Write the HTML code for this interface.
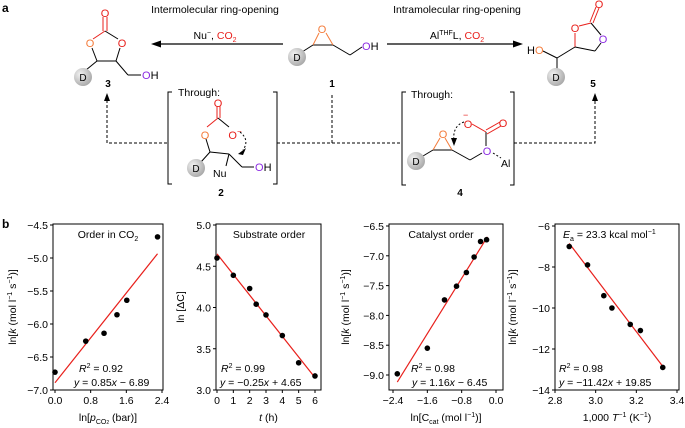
<!DOCTYPE html>
<html><head><meta charset="utf-8"><style>
body{margin:0;background:#fff;}
svg{display:block;font-family:"Liberation Sans",Arial,sans-serif;}
</style></head><body>
<svg id="s" width="685" height="428" viewBox="0 0 685 428" xmlns="http://www.w3.org/2000/svg">
<g font-size="11">
<text x="2" y="12" font-weight="bold" font-size="12">a</text>
<text x="215" y="13" text-anchor="middle" font-size="10.5">Intermolecular ring-opening</text>
<text x="215" y="39" text-anchor="middle" font-size="10.5">Nu<tspan dy="-4" font-size="7">−</tspan><tspan dy="4">, </tspan><tspan fill="#e8201c">CO<tspan font-size="7" dy="3">2</tspan></tspan></text>
<line x1="283" y1="44" x2="158" y2="44" stroke="#000" stroke-width="1.2"/>
<polygon points="151,44 161,40.5 161,47.5" fill="#000"/>
<text x="457" y="13" text-anchor="middle" font-size="10.5">Intramolecular ring-opening</text>
<text x="457" y="39" text-anchor="middle" font-size="10.5">Al<tspan dy="-4" font-size="7">THF</tspan><tspan dy="4">L, </tspan><tspan fill="#e8201c">CO<tspan font-size="7" dy="3">2</tspan></tspan></text>
<line x1="387" y1="44" x2="516" y2="44" stroke="#000" stroke-width="1.2"/>
<polygon points="523,44 513,40.5 513,47.5" fill="#000"/>
<defs><radialGradient id="g" cx="0.35" cy="0.35" r="0.7"><stop offset="0" stop-color="#f2f2f2"/><stop offset="1" stop-color="#a8a8a8"/></radialGradient></defs>
<!-- compound 3 -->
<g stroke="#000" stroke-width="1" fill="none">
<line x1="103" y1="17" x2="103" y2="31" stroke="#e8201c"/><line x1="107" y1="17" x2="107" y2="31" stroke="#e8201c"/>
<line x1="105" y1="31" x2="93" y2="39" stroke="#e8201c"/><line x1="105" y1="31" x2="118" y2="39"/>
<line x1="92" y1="48" x2="97" y2="61"/><line x1="120" y1="48" x2="116" y2="61"/>
<line x1="97" y1="61" x2="116" y2="61"/><line x1="97" y1="61" x2="86" y2="70"/>
<line x1="116" y1="61" x2="128" y2="75"/><line x1="128" y1="75" x2="141" y2="75"/>
</g>
<text x="105" y="17" text-anchor="middle" fill="#e8201c">O</text>
<text x="90" y="47" text-anchor="middle" fill="#f47b3a">O</text>
<text x="122" y="47" text-anchor="middle" fill="#e8201c">O</text>
<circle cx="83" cy="77" r="9" fill="url(#g)"/><text x="83" y="81" text-anchor="middle" font-size="10">D</text>
<text x="142" y="79"><tspan fill="#8b2be2">O</tspan>H</text>
<text x="108" y="87" text-anchor="middle" font-weight="bold" font-size="10">3</text>
<!-- compound 1 -->
<g stroke="#000" stroke-width="1">
<line x1="313" y1="45" x2="333" y2="45"/><line x1="313" y1="45" x2="319" y2="33" stroke="#f47b3a"/><line x1="333" y1="45" x2="326" y2="33" stroke="#f47b3a"/>
<line x1="313" y1="45" x2="302" y2="52"/><line x1="333" y1="45" x2="350" y2="55"/><line x1="350" y1="55" x2="362" y2="47"/>
</g>
<text x="322" y="33" text-anchor="middle" fill="#f47b3a">O</text>
<circle cx="297" cy="57" r="9" fill="url(#g)"/><text x="297" y="61" text-anchor="middle" font-size="10">D</text>
<text x="362" y="50"><tspan fill="#8b2be2">O</tspan>H</text>
<text x="332" y="87" text-anchor="middle" font-weight="bold" font-size="10">1</text>
<!-- compound 5 -->
<g stroke="#000" stroke-width="1">
<line x1="543" y1="51" x2="557" y2="58"/><line x1="557" y1="58" x2="557" y2="70"/><line x1="557" y1="58" x2="575" y2="47"/>
<line x1="575" y1="47" x2="575" y2="33" stroke="#e8201c"/><line x1="579" y1="26" x2="591" y2="23" stroke="#e8201c"/>
<line x1="591" y1="23" x2="601" y2="35"/><line x1="590" y1="22" x2="596" y2="7" stroke="#e8201c"/><line x1="593" y1="23" x2="599" y2="8" stroke="#e8201c"/>
<line x1="601" y1="43" x2="595" y2="51"/><line x1="595" y1="51" x2="575" y2="47"/>
</g>
<text x="599" y="8" text-anchor="middle" fill="#e8201c">O</text>
<text x="575" y="32" text-anchor="middle" fill="#e8201c">O</text>
<text x="603" y="43" text-anchor="middle" fill="#8b2be2">O</text>
<text x="527" y="54">H<tspan fill="#f47b3a">O</tspan></text>
<circle cx="556" cy="77" r="9" fill="url(#g)"/><text x="556" y="81" text-anchor="middle" font-size="10">D</text>
<text x="593" y="87" text-anchor="middle" font-weight="bold" font-size="10">5</text>
<!-- brackets and dashes -->
<g stroke="#000" stroke-width="1" fill="none">
<polyline points="172,92 168,92 168,184 172,184"/><polyline points="273,92 277,92 277,184 273,184"/>
<polyline points="406,92 402,92 402,185 406,185"/><polyline points="510,92 514,92 514,185 510,185"/>
</g>
<g stroke="#000" stroke-width="1" fill="none" stroke-dasharray="3,2">
<polyline points="167,143 107,143 107,100"/><line x1="277" y1="143" x2="402" y2="143"/><line x1="332" y1="95" x2="332" y2="143"/>
<polyline points="514,143 595,143 595,100"/>
</g>
<polygon points="107,93 104,101 110,101" fill="#000"/><polygon points="595,93 592,101 598,101" fill="#000"/>
<text x="178" y="96" font-size="10.5">Through:</text>
<text x="411" y="98" font-size="10.5">Through:</text>
<!-- compound 2 -->
<g stroke="#000" stroke-width="1" fill="none">
<line x1="217" y1="106" x2="217" y2="118" stroke="#e8201c"/><line x1="220" y1="106" x2="220" y2="118" stroke="#e8201c"/>
<line x1="218" y1="118" x2="207" y2="127" stroke="#e8201c"/><line x1="218" y1="118" x2="229" y2="127"/>
<line x1="206" y1="139" x2="210" y2="152"/><line x1="210" y1="152" x2="229" y2="154"/><line x1="210" y1="152" x2="201" y2="162"/>
<line x1="229" y1="154" x2="226" y2="166"/><line x1="229" y1="154" x2="242" y2="167"/><line x1="242" y1="167" x2="254" y2="167"/>
<path d="M240,132 Q250,140 243,150" stroke-dasharray="2,2"/>
</g>
<polygon points="238,154 246,148 243,155" fill="#000"/>
<text x="218" y="107" text-anchor="middle" fill="#e8201c">O</text>
<text x="205" y="139" text-anchor="middle" fill="#f47b3a">O</text>
<text x="235" y="139" text-anchor="middle" fill="#e8201c">O<tspan dy="-5" font-size="8">−</tspan></text>
<circle cx="196" cy="168" r="9" fill="url(#g)"/><text x="196" y="172" text-anchor="middle" font-size="10">D</text>
<text x="213" y="177" font-size="10.5">Nu</text>
<text x="255" y="171"><tspan fill="#8b2be2">O</tspan>H</text>
<text x="221" y="196" text-anchor="middle" font-weight="bold" font-size="10">2</text>
<!-- compound 4 -->
<g stroke="#000" stroke-width="1" fill="none">
<line x1="433" y1="150" x2="452" y2="150"/><line x1="433" y1="150" x2="440" y2="138" stroke="#f47b3a"/><line x1="452" y1="150" x2="445" y2="138" stroke="#f47b3a"/>
<line x1="433" y1="150" x2="423" y2="156"/><line x1="452" y1="150" x2="470" y2="160"/><line x1="470" y1="160" x2="482" y2="153"/>
<line x1="486" y1="146" x2="486" y2="132"/><line x1="486" y1="132" x2="472" y2="124" stroke="#e8201c"/>
<line x1="486" y1="130" x2="500" y2="122" stroke="#e8201c"/><line x1="487" y1="134" x2="501" y2="126" stroke="#e8201c"/>
<line x1="493" y1="153" x2="501" y2="158" stroke-dasharray="2,2"/>
<path d="M464,122 Q452,126 454,142" stroke-dasharray="2,2"/>
</g>
<polygon points="454,146 451,138 457,138" fill="#000"/>
<text x="443" y="138" text-anchor="middle" fill="#f47b3a">O</text>
<text x="468" y="128" text-anchor="middle" fill="#e8201c">O</text><text x="463" y="118" fill="#e8201c" font-size="9">−</text>
<text x="503" y="127" text-anchor="middle" fill="#e8201c">O</text>
<text x="487" y="155" text-anchor="middle" fill="#8b2be2">O</text>
<text x="501" y="167" font-size="10.5">Al</text>
<circle cx="416" cy="161" r="9" fill="url(#g)"/><text x="416" y="165" text-anchor="middle" font-size="10">D</text>
<text x="460" y="196" text-anchor="middle" font-weight="bold" font-size="10">4</text>
</g>
<text x="2" y="228" font-weight="bold" font-size="12">b</text>
<g id="charts"></g>
</svg>
<script>
// Chart 1: order in CO2
const c1X = [0.0, 0.69, 1.1, 1.39, 1.61, 2.3];
const c1Y = [-6.73, -6.26, -6.14, -5.86, -5.64, -4.68];
const c1Fit = [0.85, -6.89];
const c1XTicks = ["0.0", "0.8", "1.6", "2.4"];
const c1YTicks = ["-7.0", "-6.5", "-6.0", "-5.5", "-5.0", "-4.5"];
// Chart 2: substrate order
const c2X = [0, 1, 2, 2.4, 3, 4, 5, 6];
const c2Y = [4.6, 4.39, 4.23, 4.04, 3.91, 3.66, 3.33, 3.17];
const c2Fit = [-0.25, 4.65];
const c2XTicks = ["0", "1", "2", "3", "4", "5", "6"];
const c2YTicks = ["3.0", "3.5", "4.0", "4.5", "5.0"];
// Chart 3: catalyst order
const c3X = [-2.3, -1.6, -1.2, -0.92, -0.69, -0.51, -0.36, -0.22];
const c3Y = [-8.98, -8.55, -7.74, -7.51, -7.28, -7.02, -6.76, -6.73];
const c3Fit = [1.16, -6.45];
const c3XTicks = ["-2.4", "-1.6", "-0.8", "0.0"];
const c3YTicks = ["-9.0", "-8.5", "-8.0", "-7.5", "-7.0", "-6.5"];
// Chart 4: Arrhenius
const c4X = [2.87, 2.96, 3.04, 3.08, 3.17, 3.22, 3.33];
const c4Y = [-7.0, -7.9, -9.4, -10.0, -10.8, -11.1, -12.9];
const c4FitPts = [[2.87, -6.85], [3.33, -12.85]];
const c4XTicks = ["2.8", "3.0", "3.2", "3.4"];
const c4YTicks = ["-14", "-12", "-10", "-8", "-6"];

const NS = "http://www.w3.org/2000/svg";
const root = document.getElementById('charts');
function mk(tag, attrs, parent, txt) {
  const e = document.createElementNS(NS, tag);
  for (const k in attrs) e.setAttribute(k, attrs[k]);
  if (txt !== undefined) e.innerHTML = txt;
  parent.appendChild(e);
  return e;
}
function fmt(s){return s.replace('-', '−');}
function chart(o) {
  const g = mk('g', {}, root);
  
  
  const sx = v => o.px0 + (v - o.x0) / (o.x1 - o.x0) * (o.px1 - o.px0);
  const sy = v => o.py0 + (v - o.y0) / (o.y1 - o.y0) * (o.py1 - o.py0);
  const box = mk('rect', {x: o.bx0, y: 224, width: o.bx1 - o.bx0, height: 166, fill: 'none', stroke: '#000', 'stroke-width': 1}, g);
  
  
  o.xt.forEach(t => {
    const x = sx(parseFloat(t));
    mk('line', {x1: x, y1: 390, x2: x, y2: 393, stroke: '#000'}, g);
    const tl = mk('text', {x: x, y: 404, 'text-anchor': 'middle', 'font-size': 10.5}, g, fmt(t));
    
    
  });
  o.yt.forEach(t => {
    const y = sy(parseFloat(t));
    mk('line', {x1: o.bx0 - 3, y1: y, x2: o.bx0, y2: y, stroke: '#000'}, g);
    const tl = mk('text', {x: o.bx0 - 5, y: y + 4, 'text-anchor': 'end', 'font-size': 10.5}, g, fmt(t));
    
    
  });
  const ln = mk('line', {x1: sx(o.fit[0][0]), y1: sy(o.fit[0][1]), x2: sx(o.fit[1][0]), y2: sy(o.fit[1][1]), stroke: '#e8201c', 'stroke-width': 1.2}, g);
  
  
  o.xs.forEach((v, i) => {
    const c = mk('circle', {cx: sx(v), cy: sy(o.ys[i]), r: 2.8, fill: '#000'}, g);
    
    
  });
  const xt = mk('text', {x: (o.bx0 + o.bx1) / 2, y: 421, 'text-anchor': 'middle', 'font-size': 10.5}, g, o.xtitle);
  
  
  const yt = mk('text', {x: 0, y: 0, 'text-anchor': 'middle', 'font-size': 10.5, transform: `translate(${o.ytx},307) rotate(-90)`}, g, o.ytitle);
  
  
  if (o.title) {
    const tt = mk('text', {x: o.title[1], y: 238, 'text-anchor': 'middle', 'font-size': 10.5}, g, o.title[0]);
    
    
  }
  o.ann.forEach(a => {
    const t = mk('text', {x: a[1], y: a[2], 'font-size': 10.5}, g, a[0]);
    
    
  });
}
const lnk = 'ln[<tspan font-style="italic">k</tspan> (mol l<tspan dy="-4" font-size="7">−1</tspan><tspan dy="4"> s</tspan><tspan dy="-4" font-size="7">−1</tspan><tspan dy="4">)]</tspan>';
const fitPts = (f, a, b) => [[a, f[0] * a + f[1]], [b, f[0] * b + f[1]]];
chart({name: 'chart-order-co2', x0: 0, x1: 2.4, px0: 55, px1: 162, y0: -7, y1: -4.5, py0: 390, py1: 225, bx0: 53, bx1: 163,
  xs: c1X, ys: c1Y, fit: fitPts(c1Fit, 0, 2.3), xt: c1XTicks, yt: c1YTicks, ytx: 16,
  xtitle: 'ln[<tspan font-style="italic">p</tspan><tspan font-size="7" dy="3">CO<tspan font-size="5">2</tspan></tspan><tspan dy="-3"> (bar)]</tspan>',
  ytitle: lnk, title: ['Order in CO<tspan font-size="7" dy="3">2</tspan>', 108],
  ann: [['<tspan font-style="italic">R</tspan><tspan dy="-4" font-size="7">2</tspan><tspan dy="4"> = 0.92</tspan>', 79, 372], ['<tspan font-style="italic">y</tspan> = 0.85<tspan font-style="italic">x</tspan> − 6.89', 74, 386]]});
chart({name: 'chart-substrate-order', x0: 0, x1: 6, px0: 217, px1: 315, y0: 3, y1: 5, py0: 390, py1: 225, bx0: 216, bx1: 321,
  xs: c2X, ys: c2Y, fit: fitPts(c2Fit, 0, 6), xt: c2XTicks, yt: c2YTicks, ytx: 184,
  xtitle: '<tspan font-style="italic">t</tspan> (h)', ytitle: 'ln [ΔC]', title: ['Substrate order', 269],
  ann: [['<tspan font-style="italic">R</tspan><tspan dy="-4" font-size="7">2</tspan><tspan dy="4"> = 0.99</tspan>', 221, 372], ['<tspan font-style="italic">y</tspan> = −0.25<tspan font-style="italic">x</tspan> + 4.65', 220, 386]]});
chart({name: 'chart-catalyst-order', x0: -2.4, x1: 0, px0: 393, px1: 496, y0: -9, y1: -6.5, py0: 375, py1: 226, bx0: 389, bx1: 503,
  xs: c3X, ys: c3Y, fit: fitPts(c3Fit, -2.3, -0.2), xt: c3XTicks, yt: c3YTicks, ytx: 349,
  xtitle: 'ln[C<tspan font-size="7" dy="3">cat</tspan><tspan dy="-3"> (mol l</tspan><tspan dy="-4" font-size="7">−1</tspan><tspan dy="4">)]</tspan>',
  ytitle: lnk, title: ['Catalyst order', 441],
  ann: [['<tspan font-style="italic">R</tspan><tspan dy="-4" font-size="7">2</tspan><tspan dy="4"> = 0.98</tspan>', 411, 372], ['<tspan font-style="italic">y</tspan> = 1.16<tspan font-style="italic">x</tspan> − 6.45', 412, 386]]});
chart({name: 'chart-arrhenius', x0: 2.8, x1: 3.4, px0: 555, px1: 677, y0: -14, y1: -6, py0: 390, py1: 226, bx0: 555, bx1: 679,
  xs: c4X, ys: c4Y, fit: c4FitPts, xt: c4XTicks, yt: c4YTicks, ytx: 516,
  xtitle: '1,000 <tspan font-style="italic">T</tspan><tspan dy="-4" font-size="7">−1</tspan><tspan dy="4"> (K</tspan><tspan dy="-4" font-size="7">−1</tspan><tspan dy="4">)</tspan>',
  ytitle: lnk, title: null,
  ann: [['<tspan font-style="italic">E</tspan><tspan font-size="7" dy="3">a</tspan><tspan dy="-3"> = 23.3 kcal mol</tspan><tspan dy="-4" font-size="7">−1</tspan>', 563, 238],
        ['<tspan font-style="italic">R</tspan><tspan dy="-4" font-size="7">2</tspan><tspan dy="4"> = 0.98</tspan>', 559, 372], ['<tspan font-style="italic">y</tspan> = −11.42<tspan font-style="italic">x</tspan> + 19.85', 559, 386]]});
</script>
</body></html>
